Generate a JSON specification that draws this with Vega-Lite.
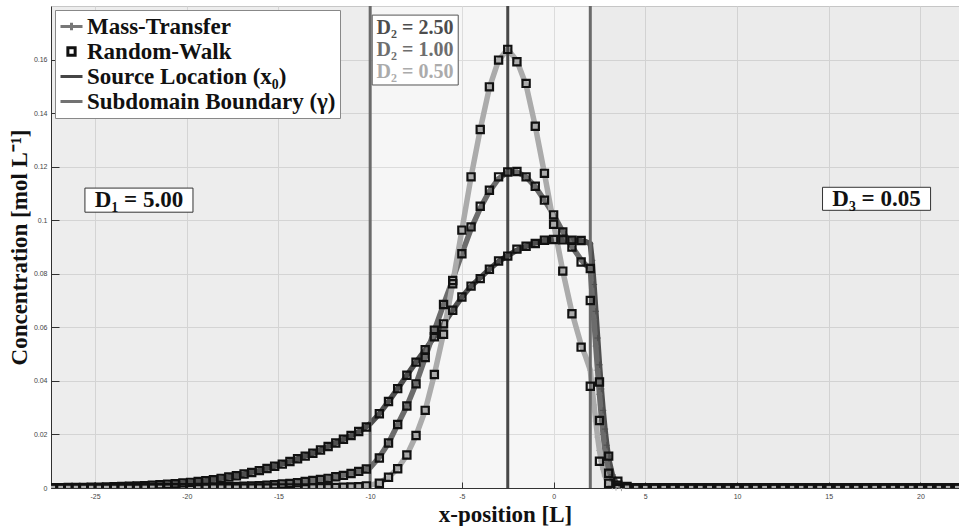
{
"$schema": "https://vega.github.io/schema/vega-lite/v6.json",
"width": 908, "height": 482,
"autosize": {"type": "none"},
"padding": {"left": 51, "top": 6, "right": 0, "bottom": 38},
"background": "white",
"view": {"fill": "#f6f6f6", "stroke": "#cfcfcf"},
"config": {
 "axis": {"grid": true, "gridColor": "#dcdcdc", "gridWidth": 1, "domainColor": "#333333", "tickColor": "#333333", "labelFont": "Liberation Sans", "labelFontSize": 7, "labelColor": "#444444", "titleFont": "Liberation Serif", "titleFontWeight": "bold", "titleFontSize": 23, "titleColor": "#111111"}
},
"datasets": {
 "one": [{}],
 "mt": [
  {"x":-27.4,"c":0.0001,"D2":"2.50"},{"x":-27,"c":0.00012,"D2":"2.50"},{"x":-26,"c":0.0002,"D2":"2.50"},{"x":-25,"c":0.0003,"D2":"2.50"},{"x":-24,"c":0.00045,"D2":"2.50"},{"x":-23,"c":0.00067,"D2":"2.50"},{"x":-22,"c":0.001,"D2":"2.50"},{"x":-21,"c":0.0014,"D2":"2.50"},{"x":-20,"c":0.002,"D2":"2.50"},{"x":-19,"c":0.0027,"D2":"2.50"},{"x":-18,"c":0.0038,"D2":"2.50"},{"x":-17,"c":0.005,"D2":"2.50"},{"x":-16,"c":0.0066,"D2":"2.50"},{"x":-15,"c":0.0085,"D2":"2.50"},{"x":-14,"c":0.0108,"D2":"2.50"},{"x":-13,"c":0.0133,"D2":"2.50"},{"x":-12,"c":0.0164,"D2":"2.50"},{"x":-11,"c":0.0197,"D2":"2.50"},{"x":-10.5,"c":0.0215,"D2":"2.50"},{"x":-10,"c":0.024,"D2":"2.50"},{"x":-9.5,"c":0.0277,"D2":"2.50"},{"x":-9,"c":0.0323,"D2":"2.50"},{"x":-8.5,"c":0.0371,"D2":"2.50"},{"x":-8,"c":0.0421,"D2":"2.50"},{"x":-7.5,"c":0.047,"D2":"2.50"},{"x":-7,"c":0.0516,"D2":"2.50"},{"x":-6.5,"c":0.0565,"D2":"2.50"},{"x":-6,"c":0.0613,"D2":"2.50"},{"x":-5.5,"c":0.0664,"D2":"2.50"},{"x":-5,"c":0.0713,"D2":"2.50"},{"x":-4.5,"c":0.0754,"D2":"2.50"},{"x":-4,"c":0.0785,"D2":"2.50"},{"x":-3.5,"c":0.0817,"D2":"2.50"},{"x":-3,"c":0.0846,"D2":"2.50"},{"x":-2.5,"c":0.0868,"D2":"2.50"},{"x":-2,"c":0.0888,"D2":"2.50"},{"x":-1.5,"c":0.0903,"D2":"2.50"},{"x":-1,"c":0.0915,"D2":"2.50"},{"x":-0.5,"c":0.0924,"D2":"2.50"},{"x":0,"c":0.0928,"D2":"2.50"},{"x":0.5,"c":0.0928,"D2":"2.50"},{"x":1,"c":0.0926,"D2":"2.50"},{"x":1.5,"c":0.0923,"D2":"2.50"},{"x":1.75,"c":0.092,"D2":"2.50"},{"x":2,"c":0.0912,"D2":"2.50"},{"x":2.1,"c":0.085,"D2":"2.50"},{"x":2.2,"c":0.076,"D2":"2.50"},{"x":2.3,"c":0.066,"D2":"2.50"},{"x":2.4,"c":0.056,"D2":"2.50"},{"x":2.5,"c":0.046,"D2":"2.50"},{"x":2.6,"c":0.037,"D2":"2.50"},{"x":2.7,"c":0.029,"D2":"2.50"},{"x":2.8,"c":0.022,"D2":"2.50"},{"x":2.9,"c":0.016,"D2":"2.50"},{"x":3,"c":0.011,"D2":"2.50"},{"x":3.2,"c":0.005,"D2":"2.50"},{"x":3.4,"c":0.002,"D2":"2.50"},{"x":3.7,"c":0.0006,"D2":"2.50"},{"x":4,"c":0.0002,"D2":"2.50"},{"x":4.5,"c":0,"D2":"2.50"},{"x":22.1,"c":0,"D2":"2.50"},
  {"x":-27.4,"c":0,"D2":"1.00"},{"x":-22,"c":0.00003,"D2":"1.00"},{"x":-21,"c":0.00008,"D2":"1.00"},{"x":-20,"c":0.00012,"D2":"1.00"},{"x":-19,"c":0.0002,"D2":"1.00"},{"x":-18,"c":0.00035,"D2":"1.00"},{"x":-17,"c":0.0006,"D2":"1.00"},{"x":-16,"c":0.0009,"D2":"1.00"},{"x":-15,"c":0.0013,"D2":"1.00"},{"x":-14,"c":0.002,"D2":"1.00"},{"x":-13,"c":0.0029,"D2":"1.00"},{"x":-12,"c":0.004,"D2":"1.00"},{"x":-11,"c":0.0055,"D2":"1.00"},{"x":-10.5,"c":0.0064,"D2":"1.00"},{"x":-10,"c":0.0076,"D2":"1.00"},{"x":-9.5,"c":0.0115,"D2":"1.00"},{"x":-9,"c":0.0168,"D2":"1.00"},{"x":-8.5,"c":0.0237,"D2":"1.00"},{"x":-8,"c":0.0306,"D2":"1.00"},{"x":-7.5,"c":0.0389,"D2":"1.00"},{"x":-7,"c":0.0487,"D2":"1.00"},{"x":-6.5,"c":0.0589,"D2":"1.00"},{"x":-6,"c":0.0685,"D2":"1.00"},{"x":-5.5,"c":0.0778,"D2":"1.00"},{"x":-5,"c":0.0875,"D2":"1.00"},{"x":-4.5,"c":0.0968,"D2":"1.00"},{"x":-4,"c":0.1045,"D2":"1.00"},{"x":-3.5,"c":0.1108,"D2":"1.00"},{"x":-3,"c":0.1155,"D2":"1.00"},{"x":-2.5,"c":0.118,"D2":"1.00"},{"x":-2,"c":0.118,"D2":"1.00"},{"x":-1.5,"c":0.1162,"D2":"1.00"},{"x":-1,"c":0.1125,"D2":"1.00"},{"x":-0.5,"c":0.1075,"D2":"1.00"},{"x":0,"c":0.102,"D2":"1.00"},{"x":0.5,"c":0.0958,"D2":"1.00"},{"x":1,"c":0.0902,"D2":"1.00"},{"x":1.5,"c":0.0852,"D2":"1.00"},{"x":1.75,"c":0.0833,"D2":"1.00"},{"x":2,"c":0.082,"D2":"1.00"},{"x":2.1,"c":0.072,"D2":"1.00"},{"x":2.2,"c":0.063,"D2":"1.00"},{"x":2.3,"c":0.053,"D2":"1.00"},{"x":2.4,"c":0.044,"D2":"1.00"},{"x":2.5,"c":0.035,"D2":"1.00"},{"x":2.6,"c":0.027,"D2":"1.00"},{"x":2.7,"c":0.02,"D2":"1.00"},{"x":2.8,"c":0.014,"D2":"1.00"},{"x":2.9,"c":0.0095,"D2":"1.00"},{"x":3,"c":0.0062,"D2":"1.00"},{"x":3.2,"c":0.0025,"D2":"1.00"},{"x":3.4,"c":0.0009,"D2":"1.00"},{"x":3.7,"c":0.0002,"D2":"1.00"},{"x":4,"c":0,"D2":"1.00"},{"x":22.1,"c":0,"D2":"1.00"},
  {"x":-27.4,"c":0,"D2":"0.50"},{"x":-14,"c":0,"D2":"0.50"},{"x":-13,"c":0.00006,"D2":"0.50"},{"x":-12,"c":0.00015,"D2":"0.50"},{"x":-11,"c":0.0004,"D2":"0.50"},{"x":-10.5,"c":0.0006,"D2":"0.50"},{"x":-10,"c":0.0011,"D2":"0.50"},{"x":-9.5,"c":0.0019,"D2":"0.50"},{"x":-9,"c":0.004,"D2":"0.50"},{"x":-8.5,"c":0.0073,"D2":"0.50"},{"x":-8,"c":0.0123,"D2":"0.50"},{"x":-7.5,"c":0.0196,"D2":"0.50"},{"x":-7,"c":0.029,"D2":"0.50"},{"x":-6.5,"c":0.0424,"D2":"0.50"},{"x":-6,"c":0.0578,"D2":"0.50"},{"x":-5.5,"c":0.0765,"D2":"0.50"},{"x":-5,"c":0.0963,"D2":"0.50"},{"x":-4.5,"c":0.1162,"D2":"0.50"},{"x":-4,"c":0.1339,"D2":"0.50"},{"x":-3.5,"c":0.1495,"D2":"0.50"},{"x":-3,"c":0.1598,"D2":"0.50"},{"x":-2.5,"c":0.1638,"D2":"0.50"},{"x":-2,"c":0.1595,"D2":"0.50"},{"x":-1.5,"c":0.1505,"D2":"0.50"},{"x":-1,"c":0.1351,"D2":"0.50"},{"x":-0.5,"c":0.1175,"D2":"0.50"},{"x":0,"c":0.0988,"D2":"0.50"},{"x":0.5,"c":0.081,"D2":"0.50"},{"x":1,"c":0.0655,"D2":"0.50"},{"x":1.5,"c":0.0535,"D2":"0.50"},{"x":1.75,"c":0.049,"D2":"0.50"},{"x":2,"c":0.044,"D2":"0.50"},{"x":2.1,"c":0.037,"D2":"0.50"},{"x":2.2,"c":0.031,"D2":"0.50"},{"x":2.3,"c":0.025,"D2":"0.50"},{"x":2.4,"c":0.019,"D2":"0.50"},{"x":2.5,"c":0.014,"D2":"0.50"},{"x":2.6,"c":0.01,"D2":"0.50"},{"x":2.7,"c":0.007,"D2":"0.50"},{"x":2.8,"c":0.0045,"D2":"0.50"},{"x":2.9,"c":0.003,"D2":"0.50"},{"x":3,"c":0.0019,"D2":"0.50"},{"x":3.2,"c":0.0007,"D2":"0.50"},{"x":3.4,"c":0.0002,"D2":"0.50"},{"x":3.7,"c":0,"D2":"0.50"},{"x":22.1,"c":0,"D2":"0.50"}
 ],
 "rw": [
  {"x":-27.292,"c":0.0001,"D2":"2.50"},{"x":-26.875,"c":0.00013,"D2":"2.50"},{"x":-26.458,"c":0.00016,"D2":"2.50"},{"x":-26.042,"c":0.0002,"D2":"2.50"},{"x":-25.625,"c":0.00024,"D2":"2.50"},{"x":-25.208,"c":0.00028,"D2":"2.50"},{"x":-24.792,"c":0.00033,"D2":"2.50"},{"x":-24.375,"c":0.00039,"D2":"2.50"},{"x":-23.958,"c":0.00046,"D2":"2.50"},{"x":-23.542,"c":0.00055,"D2":"2.50"},{"x":-23.125,"c":0.00064,"D2":"2.50"},{"x":-22.708,"c":0.00076,"D2":"2.50"},{"x":-22.292,"c":0.00089,"D2":"2.50"},{"x":-21.875,"c":0.00105,"D2":"2.50"},{"x":-21.458,"c":0.0012,"D2":"2.50"},{"x":-21.042,"c":0.0014,"D2":"2.50"},{"x":-20.625,"c":0.0016,"D2":"2.50"},{"x":-20.208,"c":0.0019,"D2":"2.50"},{"x":-19.792,"c":0.0021,"D2":"2.50"},{"x":-19.375,"c":0.0024,"D2":"2.50"},{"x":-18.958,"c":0.0027,"D2":"2.50"},{"x":-18.542,"c":0.0031,"D2":"2.50"},{"x":-18.125,"c":0.0036,"D2":"2.50"},{"x":-17.708,"c":0.0041,"D2":"2.50"},{"x":-17.292,"c":0.0046,"D2":"2.50"},{"x":-16.875,"c":0.0052,"D2":"2.50"},{"x":-16.458,"c":0.0058,"D2":"2.50"},{"x":-16.042,"c":0.0065,"D2":"2.50"},{"x":-15.625,"c":0.0073,"D2":"2.50"},{"x":-15.208,"c":0.0081,"D2":"2.50"},{"x":-14.792,"c":0.0089,"D2":"2.50"},{"x":-14.375,"c":0.0099,"D2":"2.50"},{"x":-13.958,"c":0.0109,"D2":"2.50"},{"x":-13.542,"c":0.0119,"D2":"2.50"},{"x":-13.125,"c":0.013,"D2":"2.50"},{"x":-12.708,"c":0.0142,"D2":"2.50"},{"x":-12.292,"c":0.0155,"D2":"2.50"},{"x":-11.875,"c":0.0168,"D2":"2.50"},{"x":-11.458,"c":0.0182,"D2":"2.50"},{"x":-11.042,"c":0.0196,"D2":"2.50"},{"x":-10.625,"c":0.0211,"D2":"2.50"},{"x":-10.208,"c":0.0228,"D2":"2.50"},
  {"x":-9.5,"c":0.0277,"D2":"2.50"},{"x":-9,"c":0.0323,"D2":"2.50"},{"x":-8.5,"c":0.0371,"D2":"2.50"},{"x":-8,"c":0.0421,"D2":"2.50"},{"x":-7.5,"c":0.047,"D2":"2.50"},{"x":-7,"c":0.0516,"D2":"2.50"},{"x":-6.5,"c":0.0565,"D2":"2.50"},{"x":-6,"c":0.0613,"D2":"2.50"},{"x":-5.5,"c":0.0664,"D2":"2.50"},{"x":-5,"c":0.0713,"D2":"2.50"},{"x":-4.5,"c":0.0754,"D2":"2.50"},{"x":-4,"c":0.0782,"D2":"2.50"},{"x":-3.5,"c":0.0817,"D2":"2.50"},{"x":-3,"c":0.0848,"D2":"2.50"},{"x":-2.5,"c":0.0866,"D2":"2.50"},{"x":-2,"c":0.0892,"D2":"2.50"},{"x":-1.5,"c":0.0903,"D2":"2.50"},{"x":-1,"c":0.0913,"D2":"2.50"},{"x":-0.5,"c":0.0925,"D2":"2.50"},{"x":0,"c":0.0928,"D2":"2.50"},{"x":0.5,"c":0.0927,"D2":"2.50"},{"x":1,"c":0.0925,"D2":"2.50"},{"x":1.5,"c":0.0924,"D2":"2.50"},{"x":2,"c":0.082,"D2":"2.50"},
  {"x":2.5,"c":0.0396,"D2":"2.50"},{"x":3,"c":0.0119,"D2":"2.50"},{"x":3.5,"c":0.0025,"D2":"2.50"},{"x":4,"c":0.0006,"D2":"2.50"},{"x":4.5,"c":0,"D2":"2.50"},{"x":5,"c":0,"D2":"2.50"},{"x":5.5,"c":0,"D2":"2.50"},{"x":6,"c":0,"D2":"2.50"},{"x":6.5,"c":0,"D2":"2.50"},{"x":7,"c":0,"D2":"2.50"},{"x":7.5,"c":0,"D2":"2.50"},{"x":8,"c":0,"D2":"2.50"},{"x":8.5,"c":0,"D2":"2.50"},{"x":9,"c":0,"D2":"2.50"},{"x":9.5,"c":0,"D2":"2.50"},{"x":10,"c":0,"D2":"2.50"},{"x":10.5,"c":0,"D2":"2.50"},{"x":11,"c":0,"D2":"2.50"},{"x":11.5,"c":0,"D2":"2.50"},{"x":12,"c":0,"D2":"2.50"},{"x":12.5,"c":0,"D2":"2.50"},{"x":13,"c":0,"D2":"2.50"},{"x":13.5,"c":0,"D2":"2.50"},{"x":14,"c":0,"D2":"2.50"},{"x":14.5,"c":0,"D2":"2.50"},{"x":15,"c":0,"D2":"2.50"},{"x":15.5,"c":0,"D2":"2.50"},{"x":16,"c":0,"D2":"2.50"},{"x":16.5,"c":0,"D2":"2.50"},{"x":17,"c":0,"D2":"2.50"},{"x":17.5,"c":0,"D2":"2.50"},{"x":18,"c":0,"D2":"2.50"},{"x":18.5,"c":0,"D2":"2.50"},{"x":19,"c":0,"D2":"2.50"},{"x":19.5,"c":0,"D2":"2.50"},{"x":20,"c":0,"D2":"2.50"},{"x":20.5,"c":0,"D2":"2.50"},{"x":21,"c":0,"D2":"2.50"},{"x":21.5,"c":0,"D2":"2.50"},{"x":22,"c":0,"D2":"2.50"},
  {"x":-27.292,"c":0,"D2":"1.00"},{"x":-26.875,"c":0,"D2":"1.00"},{"x":-26.458,"c":0,"D2":"1.00"},{"x":-26.042,"c":0,"D2":"1.00"},{"x":-25.625,"c":0,"D2":"1.00"},{"x":-25.208,"c":0,"D2":"1.00"},{"x":-24.792,"c":0,"D2":"1.00"},{"x":-24.375,"c":0,"D2":"1.00"},{"x":-23.958,"c":0,"D2":"1.00"},{"x":-23.542,"c":0,"D2":"1.00"},{"x":-23.125,"c":0,"D2":"1.00"},{"x":-22.708,"c":0,"D2":"1.00"},{"x":-22.292,"c":0.00005,"D2":"1.00"},{"x":-21.875,"c":0.00006,"D2":"1.00"},{"x":-21.458,"c":0.00008,"D2":"1.00"},{"x":-21.042,"c":0.0001,"D2":"1.00"},{"x":-20.625,"c":0.0001,"D2":"1.00"},{"x":-20.208,"c":0.0001,"D2":"1.00"},{"x":-19.792,"c":0.00013,"D2":"1.00"},{"x":-19.375,"c":0.00016,"D2":"1.00"},{"x":-18.958,"c":0.0002,"D2":"1.00"},{"x":-18.542,"c":0.00026,"D2":"1.00"},{"x":-18.125,"c":0.00035,"D2":"1.00"},{"x":-17.708,"c":0.00045,"D2":"1.00"},{"x":-17.292,"c":0.00053,"D2":"1.00"},{"x":-16.875,"c":0.00063,"D2":"1.00"},{"x":-16.458,"c":0.00073,"D2":"1.00"},{"x":-16.042,"c":0.00088,"D2":"1.00"},{"x":-15.625,"c":0.00105,"D2":"1.00"},{"x":-15.208,"c":0.0012,"D2":"1.00"},{"x":-14.792,"c":0.0015,"D2":"1.00"},{"x":-14.375,"c":0.0017,"D2":"1.00"},{"x":-13.958,"c":0.002,"D2":"1.00"},{"x":-13.542,"c":0.0024,"D2":"1.00"},{"x":-13.125,"c":0.0028,"D2":"1.00"},{"x":-12.708,"c":0.0032,"D2":"1.00"},{"x":-12.292,"c":0.0036,"D2":"1.00"},{"x":-11.875,"c":0.0042,"D2":"1.00"},{"x":-11.458,"c":0.0047,"D2":"1.00"},{"x":-11.042,"c":0.0054,"D2":"1.00"},{"x":-10.625,"c":0.0062,"D2":"1.00"},{"x":-10.208,"c":0.0071,"D2":"1.00"},
  {"x":-9.5,"c":0.0112,"D2":"1.00"},{"x":-9,"c":0.0168,"D2":"1.00"},{"x":-8.5,"c":0.0237,"D2":"1.00"},{"x":-8,"c":0.0306,"D2":"1.00"},{"x":-7.5,"c":0.0389,"D2":"1.00"},{"x":-7,"c":0.0487,"D2":"1.00"},{"x":-6.5,"c":0.0589,"D2":"1.00"},{"x":-6,"c":0.0685,"D2":"1.00"},{"x":-5.5,"c":0.0775,"D2":"1.00"},{"x":-5,"c":0.0875,"D2":"1.00"},{"x":-4.5,"c":0.0975,"D2":"1.00"},{"x":-4,"c":0.1052,"D2":"1.00"},{"x":-3.5,"c":0.1112,"D2":"1.00"},{"x":-3,"c":0.1162,"D2":"1.00"},{"x":-2.5,"c":0.118,"D2":"1.00"},{"x":-2,"c":0.1182,"D2":"1.00"},{"x":-1.5,"c":0.1162,"D2":"1.00"},{"x":-1,"c":0.1127,"D2":"1.00"},{"x":-0.5,"c":0.1075,"D2":"1.00"},{"x":0,"c":0.102,"D2":"1.00"},{"x":0.5,"c":0.0956,"D2":"1.00"},{"x":1,"c":0.09,"D2":"1.00"},{"x":1.5,"c":0.0844,"D2":"1.00"},{"x":2,"c":0.07,"D2":"1.00"},
  {"x":2.5,"c":0.0252,"D2":"1.00"},{"x":3,"c":0.0055,"D2":"1.00"},{"x":3.5,"c":0.001,"D2":"1.00"},{"x":4,"c":0.0002,"D2":"1.00"},{"x":4.5,"c":0,"D2":"1.00"},{"x":5,"c":0,"D2":"1.00"},{"x":5.5,"c":0,"D2":"1.00"},{"x":6,"c":0,"D2":"1.00"},{"x":6.5,"c":0,"D2":"1.00"},{"x":7,"c":0,"D2":"1.00"},{"x":7.5,"c":0,"D2":"1.00"},{"x":8,"c":0,"D2":"1.00"},{"x":8.5,"c":0,"D2":"1.00"},{"x":9,"c":0,"D2":"1.00"},{"x":9.5,"c":0,"D2":"1.00"},{"x":10,"c":0,"D2":"1.00"},{"x":10.5,"c":0,"D2":"1.00"},{"x":11,"c":0,"D2":"1.00"},{"x":11.5,"c":0,"D2":"1.00"},{"x":12,"c":0,"D2":"1.00"},{"x":12.5,"c":0,"D2":"1.00"},{"x":13,"c":0,"D2":"1.00"},{"x":13.5,"c":0,"D2":"1.00"},{"x":14,"c":0,"D2":"1.00"},{"x":14.5,"c":0,"D2":"1.00"},{"x":15,"c":0,"D2":"1.00"},{"x":15.5,"c":0,"D2":"1.00"},{"x":16,"c":0,"D2":"1.00"},{"x":16.5,"c":0,"D2":"1.00"},{"x":17,"c":0,"D2":"1.00"},{"x":17.5,"c":0,"D2":"1.00"},{"x":18,"c":0,"D2":"1.00"},{"x":18.5,"c":0,"D2":"1.00"},{"x":19,"c":0,"D2":"1.00"},{"x":19.5,"c":0,"D2":"1.00"},{"x":20,"c":0,"D2":"1.00"},{"x":20.5,"c":0,"D2":"1.00"},{"x":21,"c":0,"D2":"1.00"},{"x":21.5,"c":0,"D2":"1.00"},{"x":22,"c":0,"D2":"1.00"},
  {"x":-27.292,"c":0,"D2":"0.50"},{"x":-26.875,"c":0,"D2":"0.50"},{"x":-26.458,"c":0,"D2":"0.50"},{"x":-26.042,"c":0,"D2":"0.50"},{"x":-25.625,"c":0,"D2":"0.50"},{"x":-25.208,"c":0,"D2":"0.50"},{"x":-24.792,"c":0,"D2":"0.50"},{"x":-24.375,"c":0,"D2":"0.50"},{"x":-23.958,"c":0,"D2":"0.50"},{"x":-23.542,"c":0,"D2":"0.50"},{"x":-23.125,"c":0,"D2":"0.50"},{"x":-22.708,"c":0,"D2":"0.50"},{"x":-22.292,"c":0,"D2":"0.50"},{"x":-21.875,"c":0,"D2":"0.50"},{"x":-21.458,"c":0,"D2":"0.50"},{"x":-21.042,"c":0,"D2":"0.50"},{"x":-20.625,"c":0,"D2":"0.50"},{"x":-20.208,"c":0,"D2":"0.50"},{"x":-19.792,"c":0,"D2":"0.50"},{"x":-19.375,"c":0,"D2":"0.50"},{"x":-18.958,"c":0,"D2":"0.50"},{"x":-18.542,"c":0,"D2":"0.50"},{"x":-18.125,"c":0,"D2":"0.50"},{"x":-17.708,"c":0,"D2":"0.50"},{"x":-17.292,"c":0,"D2":"0.50"},{"x":-16.875,"c":0,"D2":"0.50"},{"x":-16.458,"c":0,"D2":"0.50"},{"x":-16.042,"c":0,"D2":"0.50"},{"x":-15.625,"c":0,"D2":"0.50"},{"x":-15.208,"c":0,"D2":"0.50"},{"x":-14.792,"c":0,"D2":"0.50"},{"x":-14.375,"c":0,"D2":"0.50"},{"x":-13.958,"c":0,"D2":"0.50"},{"x":-13.542,"c":0,"D2":"0.50"},{"x":-13.125,"c":0.00005,"D2":"0.50"},{"x":-12.708,"c":0.00008,"D2":"0.50"},{"x":-12.292,"c":0.00012,"D2":"0.50"},{"x":-11.875,"c":0.00018,"D2":"0.50"},{"x":-11.458,"c":0.00025,"D2":"0.50"},{"x":-11.042,"c":0.00035,"D2":"0.50"},{"x":-10.625,"c":0.0005,"D2":"0.50"},{"x":-10.208,"c":0.0008,"D2":"0.50"},
  {"x":-9.5,"c":0.0018,"D2":"0.50"},{"x":-9,"c":0.004,"D2":"0.50"},{"x":-8.5,"c":0.0072,"D2":"0.50"},{"x":-8,"c":0.0123,"D2":"0.50"},{"x":-7.5,"c":0.0196,"D2":"0.50"},{"x":-7,"c":0.029,"D2":"0.50"},{"x":-6.5,"c":0.0424,"D2":"0.50"},{"x":-6,"c":0.0574,"D2":"0.50"},{"x":-5.5,"c":0.0763,"D2":"0.50"},{"x":-5,"c":0.0963,"D2":"0.50"},{"x":-4.5,"c":0.1162,"D2":"0.50"},{"x":-4,"c":0.1339,"D2":"0.50"},{"x":-3.5,"c":0.1498,"D2":"0.50"},{"x":-3,"c":0.1598,"D2":"0.50"},{"x":-2.5,"c":0.1638,"D2":"0.50"},{"x":-2,"c":0.1592,"D2":"0.50"},{"x":-1.5,"c":0.1511,"D2":"0.50"},{"x":-1,"c":0.1351,"D2":"0.50"},{"x":-0.5,"c":0.1175,"D2":"0.50"},{"x":0,"c":0.0985,"D2":"0.50"},{"x":0.5,"c":0.081,"D2":"0.50"},{"x":1,"c":0.0651,"D2":"0.50"},{"x":1.5,"c":0.0526,"D2":"0.50"},{"x":2,"c":0.038,"D2":"0.50"},
  {"x":2.5,"c":0.01,"D2":"0.50"},{"x":3,"c":0.0018,"D2":"0.50"},{"x":3.5,"c":0.0003,"D2":"0.50"},{"x":4,"c":0,"D2":"0.50"},{"x":4.5,"c":0,"D2":"0.50"},{"x":5,"c":0,"D2":"0.50"},{"x":5.5,"c":0,"D2":"0.50"},{"x":6,"c":0,"D2":"0.50"},{"x":6.5,"c":0,"D2":"0.50"},{"x":7,"c":0,"D2":"0.50"},{"x":7.5,"c":0,"D2":"0.50"},{"x":8,"c":0,"D2":"0.50"},{"x":8.5,"c":0,"D2":"0.50"},{"x":9,"c":0,"D2":"0.50"},{"x":9.5,"c":0,"D2":"0.50"},{"x":10,"c":0,"D2":"0.50"},{"x":10.5,"c":0,"D2":"0.50"},{"x":11,"c":0,"D2":"0.50"},{"x":11.5,"c":0,"D2":"0.50"},{"x":12,"c":0,"D2":"0.50"},{"x":12.5,"c":0,"D2":"0.50"},{"x":13,"c":0,"D2":"0.50"},{"x":13.5,"c":0,"D2":"0.50"},{"x":14,"c":0,"D2":"0.50"},{"x":14.5,"c":0,"D2":"0.50"},{"x":15,"c":0,"D2":"0.50"},{"x":15.5,"c":0,"D2":"0.50"},{"x":16,"c":0,"D2":"0.50"},{"x":16.5,"c":0,"D2":"0.50"},{"x":17,"c":0,"D2":"0.50"},{"x":17.5,"c":0,"D2":"0.50"},{"x":18,"c":0,"D2":"0.50"},{"x":18.5,"c":0,"D2":"0.50"},{"x":19,"c":0,"D2":"0.50"},{"x":19.5,"c":0,"D2":"0.50"},{"x":20,"c":0,"D2":"0.50"},{"x":20.5,"c":0,"D2":"0.50"},{"x":21,"c":0,"D2":"0.50"},{"x":21.5,"c":0,"D2":"0.50"},{"x":22,"c":0,"D2":"0.50"}
 ],
 "kinds": [
  {"kind":"Mass-Transfer"},{"kind":"Random-Walk"},{"kind":"Source Location (x₀)"},{"kind":"Subdomain Boundary (γ)"}
 ]
},
"layer": [
 {"data": {"name": "one"},
  "mark": {"type": "rect", "fill": "#000000", "opacity": 0.035},
  "encoding": {"x": {"datum": -27.4, "type": "quantitative", "scale": {"domain": [-27.4, 22.1], "nice": false, "zero": false}}, "x2": {"datum": -10}, "y": {"datum": 0.18, "type": "quantitative", "scale": {"domain": [0, 0.18], "nice": false, "zero": false}}, "y2": {"datum": 0}}},
 {"data": {"name": "one"},
  "mark": {"type": "rect", "fill": "#000000", "opacity": 0.045},
  "encoding": {"x": {"datum": 2, "type": "quantitative"}, "x2": {"datum": 22.1}, "y": {"datum": 0.18, "type": "quantitative"}, "y2": {"datum": 0}}},
 {"data": {"name": "mt"},
  "mark": {"type": "line", "strokeWidth": 5.5, "clip": true},
  "encoding": {
   "x": {"field": "x", "type": "quantitative", "scale": {"domain": [-27.4, 22.1], "nice": false, "zero": false},
     "axis": {"values": [-25,-20,-15,-10,-5,0,5,10,15,20], "grid": true, "title": "x-position [L]", "tickSize": -6, "labelPadding": 10, "titlePadding": 4, "labelExpr": "replace(datum.label, '−', '-')"}},
   "y": {"field": "c", "type": "quantitative", "scale": {"domain": [0, 0.18], "nice": false, "zero": false},
     "axis": {"values": [0,0.02,0.04,0.06,0.08,0.1,0.12,0.14,0.16], "grid": true, "format": "~g", "title": "Concentration [mol L⁻¹]", "tickSize": -8, "labelPadding": 12, "titlePadding": 2}},
   "color": {"field": "D2", "type": "nominal", "scale": {"domain": ["2.50","1.00","0.50"], "range": ["#4f4f4f","#6c6c6c","#ababab"]}, "legend": null},
   "order": {"field": "x", "type": "quantitative"}
  }},
 {"data": {"name": "mt"},
  "transform": [{"filter": "datum.x >= 2 && datum.x <= 3.8"}],
  "mark": {"type": "point", "shape": "M-1,0H1M0,-1V1", "size": 40, "strokeWidth": 1, "filled": false, "opacity": 1},
  "encoding": {
   "x": {"field": "x", "type": "quantitative"},
   "y": {"field": "c", "type": "quantitative"},
   "color": {"field": "D2", "type": "nominal", "legend": null}
  }},
 {"data": {"name": "one"},
  "mark": {"type": "rule", "color": "#474747", "strokeWidth": 3},
  "encoding": {"x": {"datum": -2.5, "type": "quantitative"}}},
 {"data": {"name": "one"},
  "mark": {"type": "rule", "color": "#6a6a6a", "strokeWidth": 3},
  "encoding": {"x": {"datum": -10, "type": "quantitative"}}},
 {"data": {"name": "one"},
  "mark": {"type": "rule", "color": "#6a6a6a", "strokeWidth": 3},
  "encoding": {"x": {"datum": 2, "type": "quantitative"}}},
 {"data": {"name": "rw"},
  "mark": {"type": "point", "shape": "square", "size": 52, "filled": false, "stroke": "#111111", "strokeWidth": 2.2, "opacity": 1, "clip": true},
  "encoding": {
   "x": {"field": "x", "type": "quantitative"},
   "y": {"field": "c", "type": "quantitative"}
  }},
 {"data": {"name": "kinds"},
  "mark": {"type": "point", "filled": false, "opacity": 0},
  "encoding": {
   "shape": {"field": "kind", "type": "nominal",
     "scale": {"domain": ["Mass-Transfer","Random-Walk","Source Location (x₀)","Subdomain Boundary (γ)"], "range": ["M-1,0H1M0,-0.35V0.35","M-0.33,-0.33H0.33V0.33H-0.33Z","M-1,0H1","M-1,0H1"]},
     "legend": {"title": null, "orient": "top-left", "offset": 4, "padding": 4, "strokeColor": "#888888", "fillColor": "#ffffff", "labelFont": "Liberation Serif", "labelFontWeight": "bold", "labelFontSize": 23, "labelColor": "#111111", "labelLimit": 400, "symbolSize": 484, "symbolStrokeWidth": 3, "symbolOpacity": 1, "rowPadding": 0, "labelOffset": 3}},
   "stroke": {"field": "kind", "type": "nominal",
     "scale": {"domain": ["Mass-Transfer","Random-Walk","Source Location (x₀)","Subdomain Boundary (γ)"], "range": ["#777777","#111111","#454545","#727272"]},
     "legend": {"title": null, "orient": "top-left", "offset": 4, "padding": 4, "strokeColor": "#888888", "fillColor": "#ffffff", "labelFont": "Liberation Serif", "labelFontWeight": "bold", "labelFontSize": 23, "labelColor": "#111111", "labelLimit": 400, "symbolSize": 484, "symbolStrokeWidth": 3, "symbolOpacity": 1, "rowPadding": 0, "labelOffset": 3}}
  }},
 {"data": {"name": "one"},
  "mark": {"type": "rect", "fill": "#ffffff", "stroke": "#333333", "strokeWidth": 1},
  "encoding": {"x": {"datum": -25.55, "type": "quantitative"}, "x2": {"datum": -19.66}, "y": {"datum": 0.112, "type": "quantitative"}, "y2": {"datum": 0.103}}},
 {"data": {"name": "one"},
  "mark": {"type": "rect", "fill": "#ffffff", "stroke": "#333333", "strokeWidth": 1},
  "encoding": {"x": {"datum": 14.66, "type": "quantitative"}, "x2": {"datum": 20.55}, "y": {"datum": 0.1123, "type": "quantitative"}, "y2": {"datum": 0.1037}}},
 {"data": {"name": "one"},
  "mark": {"type": "rect", "fill": "#ffffff", "stroke": "#555555", "strokeWidth": 1},
  "encoding": {"x": {"datum": -9.89, "type": "quantitative"}, "x2": {"datum": -5.2}, "y": {"datum": 0.1766, "type": "quantitative"}, "y2": {"datum": 0.1505}}},
 {"data": {"name": "one"},
  "mark": {"type": "text", "text": "D₁ = 5.00", "font": "Liberation Serif", "fontWeight": "bold", "fontSize": 23, "color": "#111111", "align": "center", "baseline": "middle"},
  "encoding": {"x": {"datum": -22.6, "type": "quantitative"}, "y": {"datum": 0.1075, "type": "quantitative"}}},
 {"data": {"name": "one"},
  "mark": {"type": "text", "text": "D₃ = 0.05", "font": "Liberation Serif", "fontWeight": "bold", "fontSize": 23, "color": "#111111", "align": "center", "baseline": "middle"},
  "encoding": {"x": {"datum": 17.6, "type": "quantitative"}, "y": {"datum": 0.1078, "type": "quantitative"}}},
 {"data": {"name": "one"},
  "mark": {"type": "text", "text": "D₂ = 2.50", "font": "Liberation Serif", "fontWeight": "bold", "fontSize": 20, "color": "#4d4d4d", "align": "left", "baseline": "middle"},
  "encoding": {"x": {"datum": -9.65, "type": "quantitative"}, "y": {"datum": 0.1718, "type": "quantitative"}}},
 {"data": {"name": "one"},
  "mark": {"type": "text", "text": "D₂ = 1.00", "font": "Liberation Serif", "fontWeight": "bold", "fontSize": 20, "color": "#6e6e6e", "align": "left", "baseline": "middle"},
  "encoding": {"x": {"datum": -9.65, "type": "quantitative"}, "y": {"datum": 0.1635, "type": "quantitative"}}},
 {"data": {"name": "one"},
  "mark": {"type": "text", "text": "D₂ = 0.50", "font": "Liberation Serif", "fontWeight": "bold", "fontSize": 20, "color": "#ababab", "align": "left", "baseline": "middle"},
  "encoding": {"x": {"datum": -9.65, "type": "quantitative"}, "y": {"datum": 0.1552, "type": "quantitative"}}}
]
}
